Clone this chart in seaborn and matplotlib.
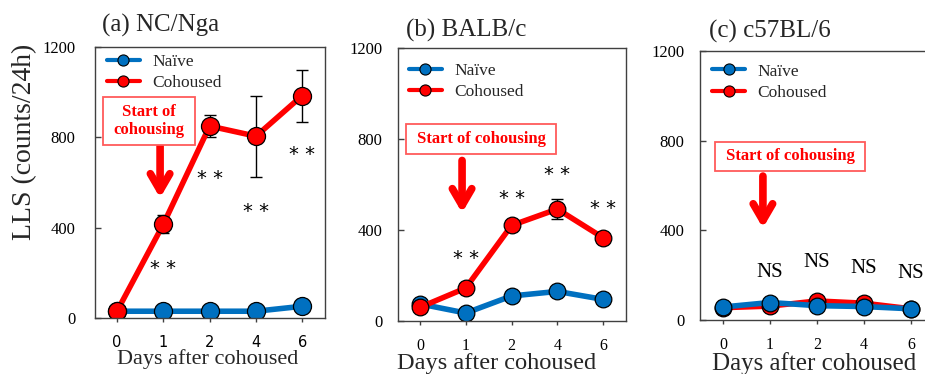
import numpy as np
import pandas as pd
import matplotlib
matplotlib.use("Agg")
import matplotlib.pyplot as plt
from matplotlib.lines import Line2D
from matplotlib.patches import Rectangle
import seaborn as sns

# ---- data -------------------------------------------------------------
days = ["0", "1", "2", "4", "6"]
groups = ["Naïve", "Cohoused"]

nc_naive = [30, 30, 30, 30, 52]
nc_cohoused = [30, 415, 850, 805, 985]
nc_cohoused_sem = [0, 40, 50, 180, 115]
nc_sig = ["", "* *", "* *", "* *", "* *"]
nc_sig_y = [0, 248, 647, 500, 753]

balb_naive = [75, 35, 110, 130, 95]
balb_cohoused = [60, 145, 420, 492, 366]
balb_cohoused_sem = [0, 0, 0, 45, 0]
balb_sig = ["", "* *", "* *", "* *", "* *"]
balb_sig_y = [0, 303, 568, 672, 524]

b6_naive = [58, 78, 64, 60, 50]
b6_cohoused = [55, 62, 85, 75, 50]
b6_cohoused_sem = [0, 0, 0, 0, 0]
b6_sig = ["", "NS", "NS", "NS", "NS"]
b6_sig_y = [0, 223, 268, 238, 216]

titles = ["(a) NC/Nga", "(b) BALB/c", "(c) c57BL/6"]

# ---- style ------------------------------------------------------------
sns.set_style("ticks")
plt.rcParams["font.family"] = ["Liberation Serif", "DejaVu Serif"]
plt.rcParams["axes.edgecolor"] = "#404040"
plt.rcParams["axes.linewidth"] = 1.0

BLUE = "#0070C0"
RED = "#FF0000"
palette = {"Naïve": BLUE, "Cohoused": RED}

W, H = 925, 374
fig = plt.figure(figsize=(W / 100, H / 100), dpi=100)


def px_rect(left, top, right, bottom):
    return [left / W, (H - bottom) / H, (right - left) / W, (bottom - top) / H]


panels = [
    dict(rect=px_rect(95, 47, 325, 318), xlim=(-0.475, 4.49),
         naive=nc_naive, coh=nc_cohoused, sem=nc_cohoused_sem,
         sig=nc_sig, sig_y=nc_sig_y, order=["Naïve", "Cohoused"],
         title_xy=(0.287, 1.081), ytick_pad=14, marker_size=13,
         xlabel_xy=(0.489, -0.151), xlabel_size=16,
         leg_xy=(0.052, 0.975),
         box=(0.035, 0.638, 0.435, 0.815), box_text="Start of\ncohousing",
         arrow=(0.283, 0.636, 0.443)),
    dict(rect=px_rect(398, 48, 626, 321), xlim=(-0.48, 4.50),
         naive=balb_naive, coh=balb_cohoused, sem=balb_cohoused_sem,
         sig=balb_sig, sig_y=balb_sig_y, order=["Naïve", "Cohoused"],
         title_xy=(0.298, 1.063), ytick_pad=11, marker_size=12,
         xlabel_xy=(0.434, -0.154), xlabel_size=17.6,
         leg_xy=(0.048, 0.947),
         box=(0.035, 0.612, 0.693, 0.722), box_text="Start of cohousing",
         arrow=(0.281, 0.588, 0.396)),
    dict(rect=px_rect(700, 51, 933, 320), xlim=(-0.49, 4.47),
         naive=b6_naive, coh=b6_cohoused, sem=b6_cohoused_sem,
         sig=b6_sig, sig_y=b6_sig_y, order=["Cohoused", "Naïve"],
         title_xy=(0.30, 1.072), ytick_pad=11, marker_size=12,
         xlabel_xy=(0.489, -0.16), xlabel_size=18,
         leg_xy=(0.052, 0.954),
         box=(0.064, 0.554, 0.708, 0.662), box_text="Start of cohousing",
         arrow=(0.27, 0.535, 0.342)),
]

axes = []
for i, p in enumerate(panels):
    ax = fig.add_axes(p["rect"])
    axes.append(ax)
    pos = np.arange(len(days))
    df = pd.DataFrame({
        "pos": np.concatenate([pos, pos]),
        "LLS": list(p["naive"]) + list(p["coh"]),
        "group": ["Naïve"] * len(days) + ["Cohoused"] * len(days),
    })

    ax.errorbar(pos, p["coh"], yerr=p["sem"], fmt="none", ecolor="black",
                elinewidth=1.0, capsize=4, capthick=1.0, zorder=1.5)
    sns.lineplot(data=df, x="pos", y="LLS", hue="group", hue_order=p["order"],
                 palette=palette, marker="o", markersize=p["marker_size"],
                 markeredgecolor="black", markeredgewidth=0.9, linewidth=4,
                 errorbar=None, legend=False, ax=ax)

    # significance marks above each day
    for j, (lab, yv) in enumerate(zip(p["sig"], p["sig_y"])):
        if not lab:
            continue
        if lab == "NS":
            ax.annotate(lab, xy=(j, yv), xytext=(0, -1.5), textcoords="offset points",
                        ha="center", va="center", fontsize=15, color="black")
        else:
            ax.annotate(lab, xy=(j, yv), xytext=(0, -4.8), textcoords="offset points",
                        ha="center", va="center", fontsize=14, color="black",
                        family="DejaVu Sans")

    ax.set_xlim(*p["xlim"])
    ax.set_ylim(0, 1200)
    ax.set_yticks([0, 400, 800, 1200])
    ax.set_xticks(pos)
    ax.set_xticklabels(days)
    ax.tick_params(axis="y", direction="in", length=4, width=1, pad=p["ytick_pad"],
                   labelsize=12, colors="#404040", labelcolor="black")
    ax.tick_params(axis="x", direction="out", length=3, width=1, pad=9,
                   labelsize=11.5, colors="#404040", labelcolor="black")
    if i == 0:
        for lbl in ax.get_xticklabels():
            lbl.set_family("DejaVu Sans")
            lbl.set_fontsize(10.5)
    for side in ["top", "right", "left", "bottom"]:
        ax.spines[side].set_visible(True)

    ax.set_ylabel("")
    ax.set_xlabel("Days after cohoused", fontsize=p["xlabel_size"])
    ax.xaxis.label.set_verticalalignment("center")
    ax.xaxis.set_label_coords(*p["xlabel_xy"])

    ax.text(*p["title_xy"], titles[i], transform=ax.transAxes, ha="center",
            va="center", fontsize=18)

    handles = [Line2D([], [], color=palette[g], lw=3, marker="o", ms=8,
                      markeredgecolor="black", markeredgewidth=0.8) for g in groups]
    ax.legend(handles, groups, loc="upper left", bbox_to_anchor=p["leg_xy"],
              frameon=False, fontsize=12.5, handlelength=1.9, handletextpad=0.7,
              labelspacing=0.3, borderpad=0, borderaxespad=0)

    # "Start of cohousing" callout with arrow down to day 1
    x0, y0, x1, y1 = p["box"]
    ax.add_patch(Rectangle((x0, y0), x1 - x0, y1 - y0, transform=ax.transAxes,
                           facecolor="white", edgecolor="#FF5A5A", lw=1.3, zorder=4))
    ax.text((x0 + x1) / 2, (y0 + y1) / 2, p["box_text"], transform=ax.transAxes,
            ha="center", va="center", color=RED, fontsize=12, fontweight="bold",
            linespacing=1.15, zorder=5)
    ax_x, ay0, ay1 = p["arrow"]
    ax.annotate("", xy=(ax_x, ay1), xytext=(ax_x, ay0), xycoords="axes fraction",
                textcoords="axes fraction",
                arrowprops=dict(arrowstyle="->,head_length=1.2,head_width=0.7",
                                lw=5.5, color=RED, shrinkA=0, shrinkB=0,
                                mutation_scale=10))

axes[0].text(-0.304, 0.651, "LLS (counts/24h)", transform=axes[0].transAxes,
             rotation=90, ha="center", va="center", fontsize=20)

fig.savefig("out.png", dpi=100)
